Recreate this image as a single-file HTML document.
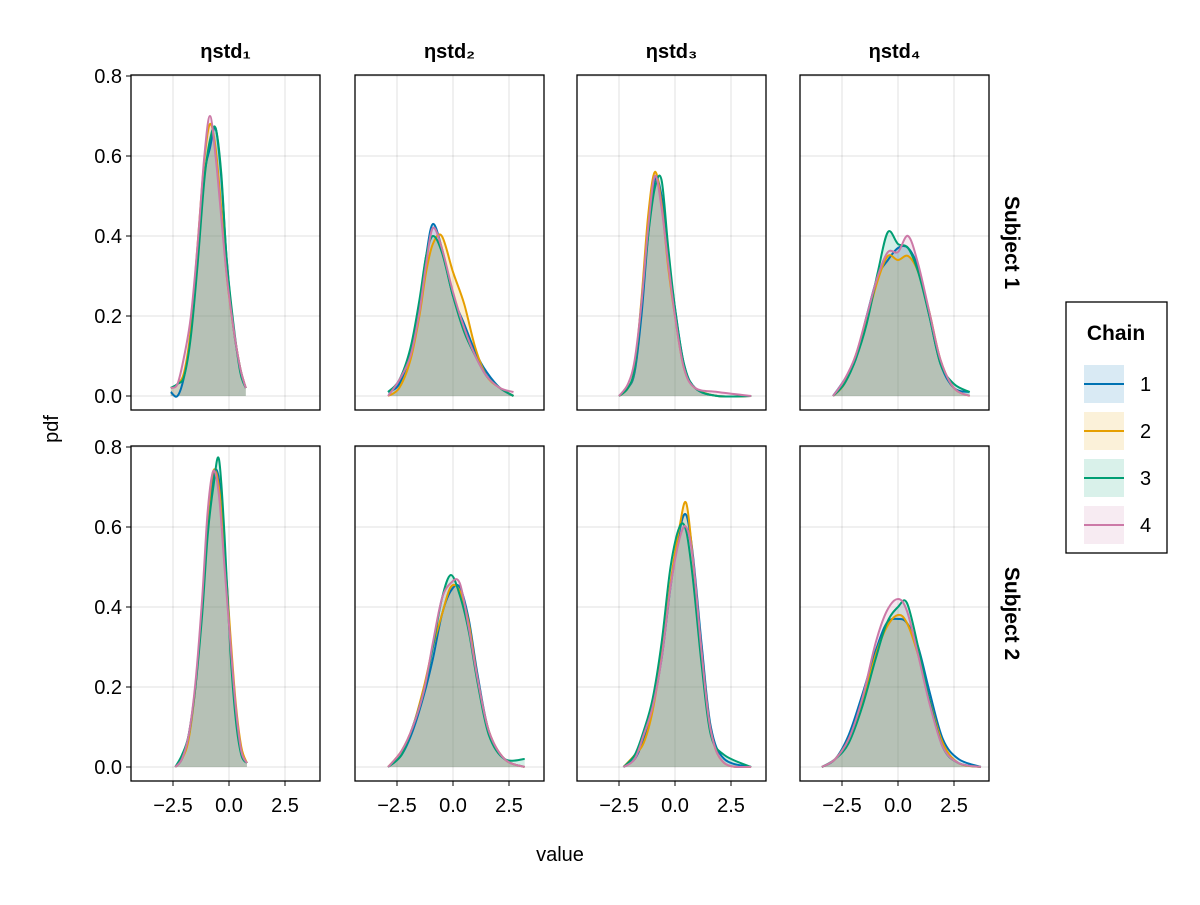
<!DOCTYPE html>
<html><head><meta charset="utf-8"><style>
body{margin:0;background:#fff;}
svg text{font-family:"Liberation Sans","DejaVu Sans",sans-serif;}
</style></head><body>
<svg id="chart" width="1200" height="900" xmlns="http://www.w3.org/2000/svg"></svg>
<script>
const colTitles = ["ηstd₁","ηstd₂","ηstd₃","ηstd₄"];
const rowTitles = ["Subject 1","Subject 2"];
const chainNames = ["1","2","3","4"];
const chainColors = ["#0072B2","#E69F00","#009E73","#CC79A7"];
const xTicks = [-2.5, 0.0, 2.5];
const xTickLabels = ["−2.5","0.0","2.5"];
const yTicks = [0,0.2,0.4,0.6,0.8];
const yTickLabels = ["0.0","0.2","0.4","0.6","0.8"];
// panel x grids (row-major: r1c1..r1c4, r2c1..r2c4)
const xs11 = [-2.6,-2.3,-2.0,-1.7,-1.4,-1.1,-0.85,-0.6,-0.35,-0.1,0.2,0.5,0.75];
const ys11 = [
 [0.01,0.0,0.05,0.16,0.34,0.55,0.62,0.67,0.55,0.34,0.17,0.07,0.02],
 [0.02,0.03,0.06,0.17,0.38,0.59,0.68,0.62,0.47,0.3,0.17,0.07,0.02],
 [0.02,0.03,0.05,0.15,0.33,0.54,0.64,0.67,0.56,0.34,0.18,0.06,0.02],
 [0.02,0.03,0.1,0.2,0.38,0.6,0.70,0.6,0.45,0.3,0.17,0.07,0.02]];
const xs12 = [-2.9,-2.4,-1.9,-1.5,-1.2,-0.9,-0.5,0.0,0.5,1.0,1.5,2.1,2.7];
const ys12 = [
 [0.01,0.03,0.11,0.23,0.35,0.43,0.37,0.25,0.18,0.11,0.06,0.02,0.0],
 [0.0,0.02,0.09,0.2,0.31,0.38,0.40,0.31,0.23,0.12,0.05,0.02,0.0],
 [0.01,0.04,0.12,0.24,0.35,0.40,0.36,0.25,0.16,0.10,0.05,0.02,0.0],
 [0.0,0.04,0.10,0.21,0.33,0.42,0.37,0.26,0.17,0.10,0.05,0.02,0.01]];
const xs13 = [-2.5,-2.1,-1.8,-1.5,-1.2,-0.9,-0.6,-0.3,0.0,0.4,0.9,1.9,3.4];
const ys13 = [
 [0.0,0.02,0.06,0.2,0.4,0.54,0.50,0.35,0.22,0.08,0.02,0.0,0.0],
 [0.0,0.02,0.07,0.24,0.45,0.56,0.48,0.32,0.2,0.07,0.02,0.0,0.0],
 [0.0,0.02,0.07,0.23,0.40,0.52,0.54,0.37,0.22,0.08,0.02,0.0,0.0],
 [0.0,0.03,0.09,0.23,0.42,0.55,0.47,0.33,0.2,0.07,0.02,0.01,0.0]];
const xs14 = [-2.9,-2.4,-1.9,-1.4,-0.9,-0.45,0.0,0.45,0.9,1.4,1.9,2.5,3.2];
const ys14 = [
 [0.0,0.04,0.09,0.2,0.3,0.34,0.37,0.37,0.32,0.2,0.08,0.02,0.01],
 [0.0,0.03,0.1,0.19,0.29,0.35,0.34,0.35,0.31,0.21,0.09,0.02,0.0],
 [0.0,0.03,0.09,0.18,0.31,0.41,0.38,0.37,0.31,0.2,0.08,0.03,0.01],
 [0.0,0.04,0.1,0.2,0.3,0.36,0.36,0.40,0.33,0.21,0.09,0.02,0.0]];
const xs21 = [-2.4,-2.1,-1.8,-1.5,-1.2,-0.95,-0.7,-0.45,-0.2,0.05,0.3,0.55,0.8];
const ys21 = [
 [0.0,0.02,0.08,0.2,0.4,0.6,0.73,0.72,0.55,0.32,0.14,0.04,0.01],
 [0.0,0.02,0.07,0.2,0.4,0.62,0.74,0.7,0.54,0.34,0.16,0.05,0.01],
 [0.0,0.03,0.08,0.2,0.38,0.58,0.7,0.77,0.58,0.3,0.12,0.03,0.01],
 [0.0,0.02,0.08,0.21,0.42,0.64,0.74,0.68,0.5,0.32,0.15,0.04,0.01]];
const xs22 = [-2.9,-2.3,-1.8,-1.3,-0.9,-0.5,-0.1,0.3,0.7,1.1,1.6,2.3,3.2];
const ys22 = [
 [0.0,0.03,0.09,0.18,0.27,0.38,0.44,0.45,0.37,0.23,0.09,0.02,0.0],
 [0.0,0.04,0.1,0.2,0.30,0.38,0.45,0.44,0.36,0.22,0.09,0.02,0.0],
 [0.0,0.03,0.1,0.19,0.30,0.42,0.48,0.43,0.34,0.21,0.08,0.02,0.02],
 [0.0,0.04,0.1,0.19,0.31,0.42,0.46,0.46,0.35,0.22,0.09,0.02,0.0]];
const xs23 = [-2.3,-1.8,-1.4,-1.0,-0.6,-0.2,0.2,0.5,0.8,1.2,1.6,2.2,3.4];
const ys23 = [
 [0.0,0.02,0.07,0.15,0.27,0.45,0.59,0.63,0.53,0.3,0.1,0.02,0.0],
 [0.0,0.03,0.06,0.14,0.28,0.46,0.6,0.66,0.52,0.28,0.09,0.01,0.0],
 [0.0,0.03,0.09,0.17,0.31,0.5,0.6,0.59,0.47,0.25,0.08,0.03,0.0],
 [0.0,0.02,0.08,0.15,0.27,0.45,0.57,0.6,0.52,0.28,0.09,0.01,0.0]];
const xs24 = [-3.4,-2.8,-2.2,-1.6,-1.0,-0.5,0.0,0.4,0.9,1.4,2.0,2.7,3.7];
const ys24 = [
 [0.0,0.02,0.08,0.18,0.29,0.36,0.37,0.36,0.3,0.19,0.07,0.02,0.0],
 [0.0,0.02,0.07,0.16,0.28,0.35,0.38,0.36,0.28,0.17,0.06,0.01,0.0],
 [0.0,0.02,0.06,0.15,0.27,0.36,0.40,0.41,0.3,0.17,0.05,0.01,0.0],
 [0.0,0.02,0.07,0.17,0.31,0.39,0.42,0.39,0.28,0.16,0.05,0.01,0.0]];
const panelX = [xs11,xs12,xs13,xs14,xs21,xs22,xs23,xs24];
const panelY = [ys11,ys12,ys13,ys14,ys21,ys22,ys23,ys24];

const svg = document.getElementById('chart');
const NS = "http://www.w3.org/2000/svg";
function mk(tag, attrs, parent){const e=document.createElementNS(NS,tag);for(const k in attrs)e.setAttribute(k,attrs[k]);(parent||svg).appendChild(e);return e;}
const colLeft=[131,355,577,800], rowTop=[75,446], PW=189, PH=335;
const XMIN=-4.375, XSCALE=22.4, YSCALE=400, Y0OFF=321;
function xScale(c,v){return colLeft[c]+(v-XMIN)*XSCALE;}
function yScale(r,v){return rowTop[r]+Y0OFF-v*YSCALE;}
function smooth(pts){let d=`M${pts[0][0]},${pts[0][1]}`;for(let i=0;i<pts.length-1;i++){const p0=pts[Math.max(0,i-1)],p1=pts[i],p2=pts[i+1],p3=pts[Math.min(pts.length-1,i+2)];d+=` C${p1[0]+(p2[0]-p0[0])/6},${p1[1]+(p2[1]-p0[1])/6} ${p2[0]-(p3[0]-p1[0])/6},${p2[1]-(p3[1]-p1[1])/6} ${p2[0]},${p2[1]}`;}return d;}

for(let r=0;r<2;r++)for(let c=0;c<4;c++){
  const g=mk('g',{});
  
  
  // grid
  for(const t of xTicks){const l=mk('line',{x1:xScale(c,t),x2:xScale(c,t),y1:rowTop[r],y2:rowTop[r]+PH,stroke:'#000','stroke-opacity':0.12,'stroke-width':1},g);}
  for(const t of yTicks){const l=mk('line',{x1:colLeft[c],x2:colLeft[c]+PW,y1:yScale(r,t),y2:yScale(r,t),stroke:'#000','stroke-opacity':0.12,'stroke-width':1},g);}
  const xsArr=panelX[r*4+c], ysArr=panelY[r*4+c];
  for(let k=0;k<4;k++){
    const pts=xsArr.map((x,i)=>[xScale(c,x),yScale(r,ysArr[k][i])]);
    const d=smooth(pts);
    const f=mk('path',{d:d+` L${pts[pts.length-1][0]},${yScale(r,0)} L${pts[0][0]},${yScale(r,0)} Z`,fill:chainColors[k],'fill-opacity':0.17,stroke:'none'},g);
    
    
  }
  for(let k=0;k<4;k++){
    const pts=xsArr.map((x,i)=>[xScale(c,x),yScale(r,ysArr[k][i])]);
    const p=mk('path',{d:smooth(pts),fill:'none',stroke:chainColors[k],'stroke-width':2},g);
    
    
  }
  const b=mk('rect',{x:colLeft[c],y:rowTop[r],width:PW,height:PH,fill:'none',stroke:'#000','stroke-width':1.3},g);
  
  if(c===0){for(let i=0;i<yTicks.length;i++){const y=yScale(r,yTicks[i]);mk('line',{x1:colLeft[c]-5,x2:colLeft[c],y1:y,y2:y,stroke:'#000'},g);const t=mk('text',{x:colLeft[c]-9,y:y+7,'text-anchor':'end','font-size':20},g);t.textContent=yTickLabels[i];}}
  if(r===1){for(let i=0;i<xTicks.length;i++){const x=xScale(c,xTicks[i]);mk('line',{x1:x,x2:x,y1:rowTop[r]+PH,y2:rowTop[r]+PH+5,stroke:'#000'},g);const t=mk('text',{x:x,y:812,'text-anchor':'middle','font-size':20},g);t.textContent=xTickLabels[i];}}
  if(r===0){const t=mk('text',{x:colLeft[c]+PW/2,y:58,'text-anchor':'middle','font-size':20,'font-weight':'bold'},g);t.textContent=colTitles[c];}
}
for(let r=0;r<2;r++){const cy=rowTop[r]+PH/2;const t=mk('text',{x:1005,y:cy,'text-anchor':'middle','font-size':21,'font-weight':'bold',transform:`rotate(90 1005 ${cy})`});t.textContent=rowTitles[r];}
const xt=mk('text',{x:560,y:861,'text-anchor':'middle','font-size':20});xt.textContent='value';


const yt=mk('text',{x:58,y:429,'text-anchor':'middle','font-size':20,transform:'rotate(-90 58 429)'});yt.textContent='pdf';


const lg=mk('g',{});


mk('rect',{x:1066,y:302,width:101,height:251,fill:'#fff',stroke:'#000','stroke-width':1.3},lg);
const lt=mk('text',{x:1116,y:340,'text-anchor':'middle','font-size':21,'font-weight':'bold'},lg);lt.textContent='Chain';


for(let k=0;k<4;k++){
  const y=384+k*47;
  const e=mk('g',{},lg);
  
  
  mk('rect',{x:1084,y:y-19,width:40,height:38,fill:chainColors[k],'fill-opacity':0.15},e);
  mk('line',{x1:1084,x2:1124,y1:y,y2:y,stroke:chainColors[k],'stroke-width':2},e);
  const t=mk('text',{x:1140,y:y+7,'font-size':20},e);t.textContent=chainNames[k];
}
</script>
</body></html>
